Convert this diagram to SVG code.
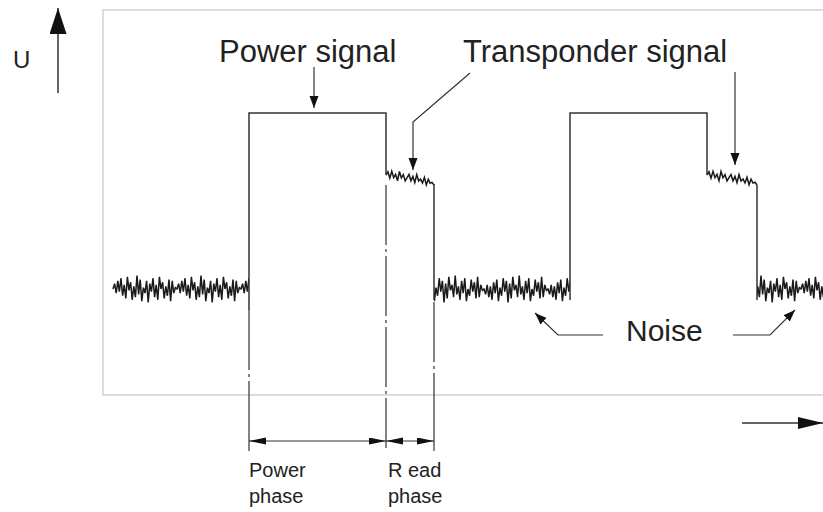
<svg xmlns="http://www.w3.org/2000/svg" xmlns:xlink="http://www.w3.org/1999/xlink" width="823" height="512" viewBox="0 0 823 512">
<style>
text{font-family:"Liberation Sans",Arial,sans-serif;fill:#222}
.big{font-size:31px}
.small{font-size:20px}
.sig{fill:none;stroke:#333;stroke-width:1.5}
.nz{fill:none;stroke:#1a1a1a;stroke-width:1.5;stroke-linejoin:miter}
.dd{fill:none;stroke:#333;stroke-width:1.2;stroke-dasharray:60 4 3 4}
.ext{fill:none;stroke:#333;stroke-width:1.2}
.arr{fill:none;stroke:#333;stroke-width:1.2}
.ax{fill:none;stroke:#333;stroke-width:1.5}
</style>
<defs>
<marker id="ah" markerUnits="userSpaceOnUse" markerWidth="13" markerHeight="10" refX="12" refY="4.5" orient="auto"><path d="M0,0 L12,4.5 L0,9 z" fill="#111"/></marker>
<marker id="dim" markerUnits="userSpaceOnUse" markerWidth="18" markerHeight="8" refX="17" refY="3.5" orient="auto-start-reverse"><path d="M0,0 L17,3.5 L0,7 z" fill="#111"/></marker>
<marker id="axU" markerUnits="userSpaceOnUse" markerWidth="27" markerHeight="18" refX="26" refY="8.5" orient="auto"><path d="M0,0 L26,8.5 L0,17 z" fill="#111"/></marker>
<marker id="axT" markerUnits="userSpaceOnUse" markerWidth="26" markerHeight="13" refX="25" refY="6" orient="auto"><path d="M0,0 L25,6 L0,12 z" fill="#111"/></marker>
<path id="nz" vector-effect="non-scaling-stroke" d="M0,0 l2,-4 2,7 2,-9 2,8 2,-10 2,13 2,-8 2,10 2,-16 2,10 2,-6 2,13 2,-10 2,8 2,-16 2,14 2,-11 2,16 2,-10 2,4 2,-9 2,16 2,-14 2,6 2,-10 2,14 2,-9 2,11 2,-17 2,9 2,-5 2,12 2,-9 2,7 2,-12 2,16 2,-15 2,9 2,-4 2,1 2,-4 2,7 2,-9 2,8 2,-10 2,13 2,-8 2,10 2,-16 2,10 2,-6 2,13 2,-10 2,8 2,-16 2,14 2,-11 2,16 2,-10 2,4 2,-9 2,16 2,-14 2,6 2,-10 2,14 2,-9 2,11 2,-17 2,9 2,-5 2,12 2,-9 2,7 2,-12 2,16 2,-15 2,9 2,-4 2,1 2,-4 2,7 2,-9 2,8 2,-10 2,13 2,-8 2,10 2,-16 2,10 2,-6 2,13 2,-10 2,8 2,-16 2,14 2,-11 2,16 2,-10 2,4 2,-9 2,16 2,-14 2,6 2,-10 2,14 2,-9 2,11 2,-17 2,9 2,-5 2,12 2,-9 2,7 2,-12 2,16 2,-15 2,9 2,-4 2,1"/>
<path id="tz" vector-effect="non-scaling-stroke" d="M0,0 l2,-3 2,5 2,-6 2,5 2,-3 2,5 2,-8 2,5 2,-3 2,5 2,-3 2,-3 2,5 2,-4 2,5 2,-7 2,5 2,-2 2,3 2,-5 2,6 2,-5 2,3 2,-1 2,2"/>
<clipPath id="c1"><rect x="112" y="260" width="137" height="60"/></clipPath>
<clipPath id="c2"><rect x="434" y="260" width="136" height="60"/></clipPath>
<clipPath id="c3"><rect x="757" y="260" width="70" height="60"/></clipPath>
</defs>
<rect width="823" height="512" fill="#fff"/>
<g id="frame"><rect x="103" y="10" width="740" height="385" fill="none" stroke="#ddd" stroke-width="2"/></g>
<g id="axes">
<path class="ax" d="M58,93 L58,8" marker-end="url(#axU)"/>
<path class="ax" d="M742,423 L823,423" marker-end="url(#axT)"/>
<text x="13" y="68" style="font-size:24px">U</text>
</g>
<g id="signal">
<g clip-path="url(#c1)"><use xlink:href="#nz" href="#nz" class="nz" transform="translate(113,289) scale(0.8,1.35)"/></g>
<g clip-path="url(#c2)"><use xlink:href="#nz" href="#nz" class="nz" transform="translate(420,289) scale(0.8,-1.35)"/></g>
<g clip-path="url(#c3)"><use xlink:href="#nz" href="#nz" class="nz" transform="translate(737,289) scale(0.8,1.35)"/></g>
<use xlink:href="#tz" href="#tz" class="nz" transform="translate(386,175) skewY(10.5) scale(0.96,1.2)"/>
<use xlink:href="#tz" href="#tz" class="nz" transform="translate(707,175) skewY(10) scale(1,1.2)"/>
<path class="sig" d="M249,310 L249,113 L386,113 L386,175"/>
<path class="sig" d="M434,184 L434,300"/>
<path class="sig" d="M570,300 L570,113 L707,113 L707,175"/>
<path class="sig" d="M757,185 L757,300"/>
</g>
<g id="dimensions">
<path class="dd" d="M249,310 L249,400"/>
<path class="dd" d="M386,185 L386,400"/>
<path class="dd" d="M434,302 L434,400"/>
<path class="ext" d="M249,400 L249,451 M386,400 L386,448 M434,400 L434,451"/>
<path class="ext" d="M249,441 L386,441" marker-start="url(#dim)" marker-end="url(#dim)"/>
<path class="ext" d="M386,441 L434,441" marker-start="url(#dim)" marker-end="url(#dim)"/>
<text class="small" x="249" y="477">Power</text>
<text class="small" x="249" y="503">phase</text>
<text class="small" x="388" y="477">R ead</text>
<text class="small" x="388" y="503">phase</text>
</g>
<g id="labels">
<text class="big" x="219" y="62">Power signal</text>
<text class="big" x="463" y="62">Transponder signal</text>
<text x="626" y="341" style="font-size:30px">Noise</text>
</g>
<g id="connectors">
<path class="arr" d="M314,67 L314,108" marker-end="url(#ah)"/>
<path class="arr" d="M470,73 L413,122 L413,170" marker-end="url(#ah)"/>
<path class="arr" d="M735,72 L735,165" marker-end="url(#ah)"/>
<path class="arr" d="M603,335 L558,335 L535,313" marker-end="url(#ah)"/>
<path class="arr" d="M733,335 L770,335 L795,310" marker-end="url(#ah)"/>
</g>
</svg>
